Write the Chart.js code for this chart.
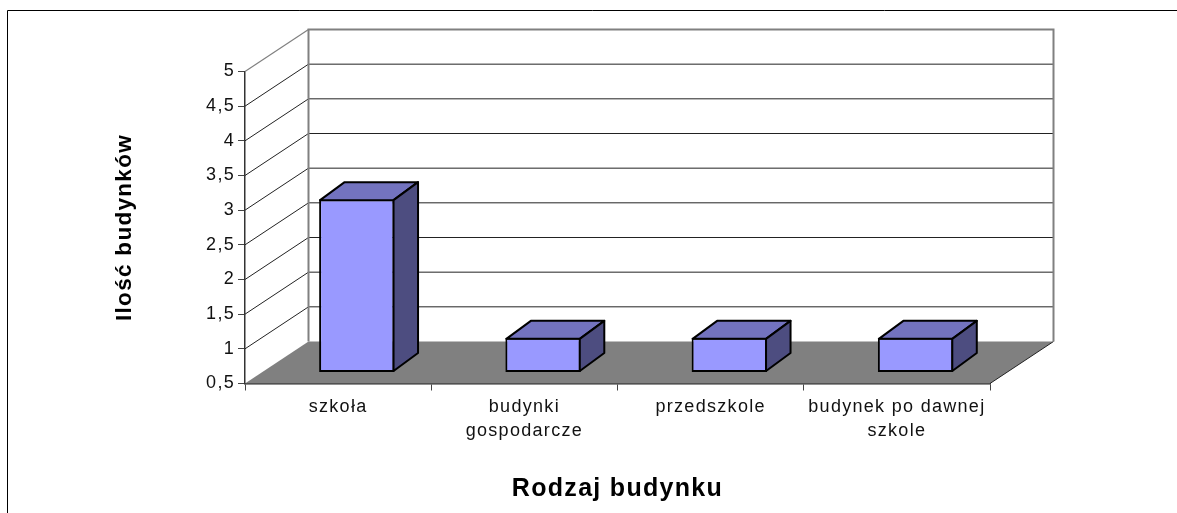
<!DOCTYPE html>
<html><head><meta charset="utf-8">
<style>html,body{margin:0;padding:0;background:#fff;overflow:hidden}#w{position:absolute;left:0;top:0;width:1177px;height:513px}</style>
<script src="https://cdn.jsdelivr.net/npm/chart.js@4"></script>
</head><body><div id="w"><canvas id="c" width="1177" height="513"></canvas></div>
<script>
const categories = ['szkoła', ['budynki', 'gospodarcze'], 'przedszkole', ['budynek po dawnej', 'szkole']];
const buildings = [3, 1, 1, 1];
const axisMin = 0.5, axisMax = 5, axisStep = 0.5;
const xTitle = 'Rodzaj budynku', yTitle = 'Ilość budynków';
const wallDepth = {dx: 63.5, dy: -42};
const barShift = {dx: 18.7, dy: -11};
const barDepth = {dx: 24.5, dy: -18};
const FONT = '"Liberation Sans", Arial, sans-serif';

const walls = {
  id: 'walls',
  beforeDraw(chart) {
    const ctx = chart.ctx;
    ctx.letterSpacing = '1.3px';
    ctx.save();
    ctx.strokeStyle = '#000'; ctx.lineWidth = 1;
    ctx.beginPath();
    ctx.moveTo(7.5, chart.height); ctx.lineTo(7.5, 10.5); ctx.lineTo(chart.width, 10.5);
    ctx.stroke();
    ctx.restore();
  },
  beforeDatasetsDraw(chart) {
    const ctx = chart.ctx, y = chart.scales.y, a = chart.chartArea;
    const {dx, dy} = wallDepth;
    const bx = a.left + dx, rx = a.right + dx;
    ctx.save();
    ctx.fillStyle = '#808080';
    ctx.beginPath();
    ctx.moveTo(a.left, a.bottom); ctx.lineTo(a.right, a.bottom);
    ctx.lineTo(rx, a.bottom + dy); ctx.lineTo(bx, a.bottom + dy);
    ctx.closePath(); ctx.fill();
    ctx.lineWidth = 1;
    for (let v = axisMin + axisStep; v < axisMax; v += axisStep) {
      const p = y.getPixelForValue(v);
      ctx.strokeStyle = '#222';
      ctx.beginPath(); ctx.moveTo(a.left, p); ctx.lineTo(bx, p + dy); ctx.lineTo(rx, p + dy); ctx.stroke();
    }
    ctx.strokeStyle = '#222';
    ctx.beginPath(); ctx.moveTo(a.right, a.bottom); ctx.lineTo(rx, a.bottom + dy); ctx.stroke();
    ctx.strokeStyle = '#808080';
    const t = y.getPixelForValue(axisMax), b = y.getPixelForValue(axisMin);
    ctx.lineWidth = 1.2;
    ctx.beginPath(); ctx.moveTo(a.left, t); ctx.lineTo(bx, t + dy); ctx.stroke();
    ctx.lineWidth = 2;
    ctx.beginPath();
    ctx.moveTo(bx, b + dy); ctx.lineTo(bx, t + dy); ctx.lineTo(rx, t + dy); ctx.lineTo(rx, b + dy);
    ctx.stroke();
    ctx.restore();
    ctx.save();
    ctx.translate(barShift.dx, barShift.dy);
  },
  afterDatasetsDraw(chart) {
    const ctx = chart.ctx;
    const {dx, dy} = barDepth;
    ctx.lineWidth = 2; ctx.strokeStyle = '#000'; ctx.lineJoin = 'round';
    chart.getDatasetMeta(0).data.forEach(el => {
      const {x, y, base, width} = el.getProps(['x', 'y', 'base', 'width'], true);
      const l = x - width / 2 + 1, r = x + width / 2 - 1, t = y + 1, b = base - 1;
      ctx.fillStyle = '#7373bf';
      ctx.beginPath();
      ctx.moveTo(l, t); ctx.lineTo(l + dx, t + dy); ctx.lineTo(r + dx, t + dy); ctx.lineTo(r, t);
      ctx.closePath(); ctx.fill(); ctx.stroke();
      ctx.fillStyle = '#4d4d80';
      ctx.beginPath();
      ctx.moveTo(r, t); ctx.lineTo(r + dx, t + dy); ctx.lineTo(r + dx, b + dy); ctx.lineTo(r, b);
      ctx.closePath(); ctx.fill(); ctx.stroke();
    });
    ctx.restore();
  }
};

new Chart(document.getElementById('c'), {
  type: 'bar',
  plugins: [walls],
  data: {
    labels: categories,
    datasets: [{
      data: buildings,
      base: axisMin,
      backgroundColor: '#9999ff',
      borderColor: '#000',
      borderWidth: 2,
      borderSkipped: false,
      categoryPercentage: 0.405,
      barPercentage: 1,
      clip: false
    }]
  },
  options: {
    responsive: false,
    animation: false,
    layout: {padding: {left: 111, right: 187, top: 71.5, bottom: 9}},
    plugins: {legend: {display: false}, tooltip: {enabled: false}},
    scales: {
      x: {
        afterFit(s) { s.height = 513 - 383.5 - 9; },
        grid: {drawOnChartArea: false, drawTicks: true, tickLength: 7, tickColor: '#444', offset: true},
        border: {display: true, color: '#222', width: 1.5},
        ticks: {color: '#111', padding: 5, maxRotation: 0, autoSkip: false, font: {family: FONT, size: 18, lineHeight: 1.33}},
        title: {display: true, text: xTitle, color: '#000', font: {family: FONT, size: 25, weight: 'bold'}, padding: {top: 0, bottom: 0}}
      },
      y: {
        min: axisMin, max: axisMax,
        afterFit(s) { s.width = 245 - 111; },
        grid: {drawOnChartArea: false, drawTicks: true, tickLength: 7, tickColor: '#444'},
        border: {display: true, color: '#333', width: 1.5},
        ticks: {stepSize: axisStep, color: '#111', padding: 3, font: {family: FONT, size: 18},
          callback: v => String(v).replace('.', ',')},
        title: {display: true, text: yTitle, color: '#000', font: {family: FONT, size: 22.5, weight: 'bold'}, padding: {top: 0, bottom: 0}}
      }
    }
  }
});
</script></body></html>
